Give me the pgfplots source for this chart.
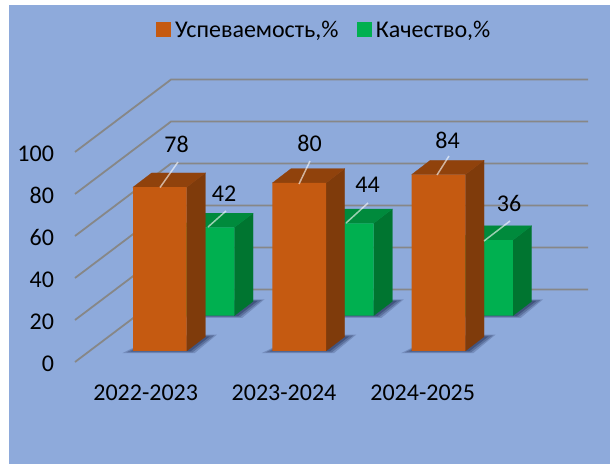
\documentclass[border=0pt]{standalone}
\usepackage{pgfplots}
\pgfplotsset{compat=1.18}
\usepackage{fontspec}
\setmainfont{Carlito}
\definecolor{bg}{HTML}{8EAADB}
\definecolor{orF}{HTML}{C55A11}
\definecolor{orT}{HTML}{90420C}
\definecolor{orS}{HTML}{7F3B0B}
\definecolor{grF}{HTML}{00B050}
\definecolor{grT}{HTML}{008A3C}
\definecolor{grS}{HTML}{007530}
\definecolor{gl}{HTML}{878787}
\definecolor{sh}{HTML}{2B3A63}
\newcommand\lab{\fontsize{24}{28}\selectfont}
\pgfplotsset{
  base/.style={at={(0,0)},anchor=south west,scale only axis,width=610pt,height=464pt,clip=false},
  cats/.style={base,hide axis,xmin=-1.1475,xmax=3.2315},
}
% category, value, side colour, top colour
\newcommand\faces[4]{%
  \addplot[fill=#3,draw=#3,line width=.2pt] coordinates {(#1+.1928,0)(#1+.3270,6.8)(#1+.3270,#2+6.8)(#1+.1928,#2)} --cycle;
  \addplot[fill=#4,draw=#4,line width=.2pt] coordinates {(#1-.1928,#2)(#1+.1928,#2)(#1+.3270,#2+6.8)(#1-.0586,#2+6.8)} --cycle;
}
\newcommand\shadow[1]{%
  \addplot[fill=sh,draw=none,opacity=.25] coordinates {(#1-.2685,-1)(#1+.25,-1)(#1+.41,7.8)(#1,7.8)} --cycle;
  \addplot[fill=sh,draw=none,opacity=.35] coordinates {(#1-.2385,-.6)(#1+.235,-.6)(#1+.39,7.4)(#1,7.4)} --cycle;
  \addplot[fill=sh,draw=none,opacity=.5] coordinates {(#1-.2085,-.2)(#1+.22,-.2)(#1+.36,7)(#1,7)} --cycle;
}
\begin{document}
\begin{tikzpicture}
\path[use as bounding box] (0,0) rectangle (610pt,464pt);
\fill[white] (0,0) rectangle (610pt,464pt);
\fill[bg] (9pt,0) rectangle (610pt,459pt);
% walls, value axis, category labels, legend
\begin{axis}[base,xmin=0,xmax=610,ymin=-48.57,ymax=172.38,
  axis x line*=bottom,axis y line*=left,axis line style={draw=none},major tick length=0pt,
  ytick={0,20,40,60,80,100},xtick={145.7,284,422.7},
  xticklabels={2022-2023,2023-2024,2024-2025},
  tick label style={font=\lab,text=black},
  /pgf/number format/assume math mode=true,
  yticklabel style={anchor=east,xshift=57.5pt,yshift=-1.5pt},
  xticklabel style={anchor=center,yshift=71.7pt},
  legend columns=2,
  legend style={at={(axis cs:323.5,158.3)},anchor=center,draw=none,fill=none,font=\lab,
    /tikz/every even column/.append style={column sep=17pt},
    /tikz/every odd column/.append style={column sep=4pt},
    nodes={inner sep=1pt},inner sep=0pt},
  legend image code/.code={\fill[#1] (0pt,-7pt) rectangle (14pt,7pt);},
]
\addlegendimage{orF}\addlegendentry{Успеваемость,\%}
\addlegendimage{grF}\addlegendentry{Качество,\%}
\addplot[gl,line width=1.8pt] coordinates {(75,0)(171,34.5)(588,34.5)};
\addplot[gl,line width=1.8pt] coordinates {(75,20)(171,54.5)(588,54.5)};
\addplot[gl,line width=1.8pt] coordinates {(75,40)(171,74.5)(588,74.5)};
\addplot[gl,line width=1.8pt] coordinates {(75,60)(171,94.5)(588,94.5)};
\addplot[gl,line width=1.8pt] coordinates {(75,80)(171,114.5)(588,114.5)};
\addplot[gl,line width=1.8pt] coordinates {(75,100)(171,134.5)(588,134.5)};
\end{axis}
% Качество,% : rear row of bars
\begin{axis}[cats,ymin=-70.62,ymax=150.33]
\shadow{.3417}\shadow{1.3417}\shadow{2.3417}
\faces{.3417}{42}{grS}{grT}
\faces{1.3417}{44}{grS}{grT}
\faces{2.3417}{36}{grS}{grT}
\addplot[ybar,bar width=53.7pt,fill=grF,draw=none] coordinates {(.3417,42)(1.3417,44)(2.3417,36)};
\end{axis}
% Успеваемость,% : front row of bars
\begin{axis}[cats,ymin=-53.81,ymax=167.14]
\shadow{0}\shadow{1}\shadow{2}
\faces{0}{78}{orS}{orT}
\faces{1}{80}{orS}{orT}
\faces{2}{84}{orS}{orT}
\addplot[ybar,bar width=53.7pt,fill=orF,draw=none] coordinates {(0,78)(1,80)(2,84)};
\end{axis}
% data labels and leader lines
\begin{axis}[base,hide axis,xmin=0,xmax=610,ymin=0,ymax=464,y dir=reverse]
\addplot[white,opacity=.6,line width=1.5pt] coordinates {(160,187.5)(178,162)};
\addplot[white,opacity=.6,line width=1.5pt] coordinates {(208,227)(226,211)};
\addplot[white,opacity=.6,line width=1.5pt] coordinates {(299,184)(310,161)};
\addplot[white,opacity=.6,line width=1.5pt] coordinates {(346,223)(368,203)};
\addplot[white,opacity=.6,line width=1.5pt] coordinates {(437,175)(449,156)};
\addplot[white,opacity=.6,line width=1.5pt] coordinates {(484,241)(510,221)};
\node[font=\lab,text=black] at (axis cs:176.5,144) {78};
\node[font=\lab,text=black] at (axis cs:224,194) {42};
\node[font=\lab,text=black] at (axis cs:309.5,143) {80};
\node[font=\lab,text=black] at (axis cs:367.5,185) {44};
\node[font=\lab,text=black] at (axis cs:447.5,140) {84};
\node[font=\lab,text=black] at (axis cs:509,203) {36};
\end{axis}
\end{tikzpicture}
\end{document}
